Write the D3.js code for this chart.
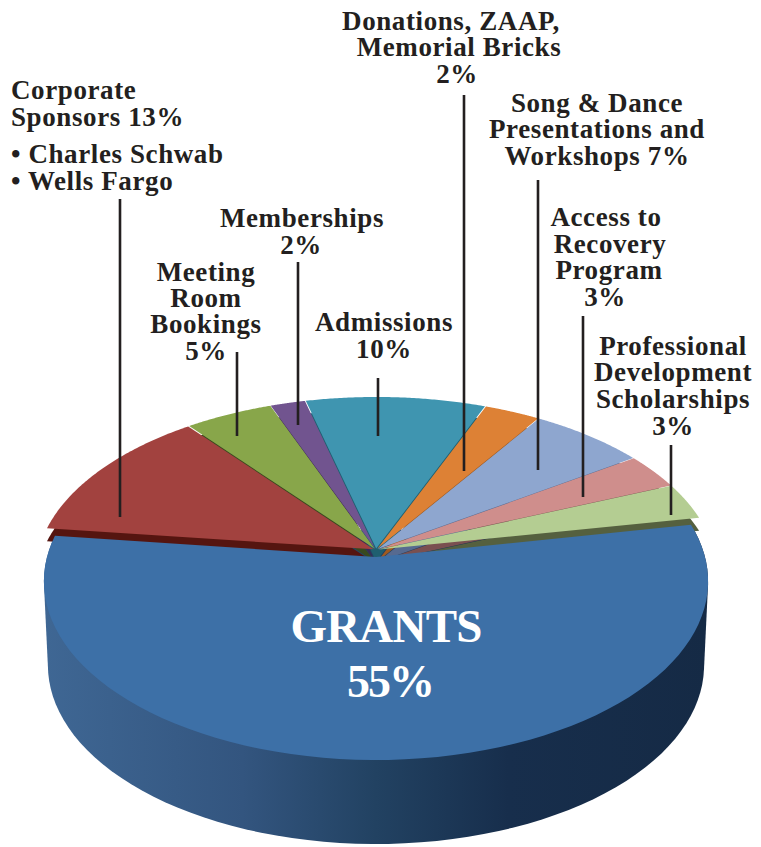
<!DOCTYPE html>
<html>
<head>
<meta charset="utf-8">
<script src="https://cdn.jsdelivr.net/npm/d3@7"></script>
<style>
  html, body { margin: 0; background: #fff; }
  svg { display: block; }
  text { font-family: "Liberation Serif", serif; font-weight: bold; fill: #231f20; }
</style>
</head>
<body>
<svg id="chart" width="761" height="847"></svg>
<script>
// slice sizes (the printed labels are rounded)
const categories = ["Grants", "Corporate Sponsors", "Meeting Room Bookings", "Memberships", "Admissions",
  "Donations, ZAAP, Memorial Bricks", "Song & Dance Presentations and Workshops", "Access to Recovery Program",
  "Professional Development Scholarships"];
const sliceValues = [55, 12.5, 4.8, 1.9, 9.8, 3.05, 6.35, 3.25, 3.35];
const topColors = ["#3d70a7", "#a2423f", "#88a64a", "#71548f", "#3f95b0", "#dd8135", "#8ea6cf", "#cf8e8c", "#b4cd92"];
const wallColors = ["#24456a", "#551510", "#38491f", "#3c2a55", "#1f5f70", "#a05a20", "#566a90", "#7a5050", "#55603f"];

// label blocks, one per slice: lines of [text, x, baseline y]
const labels = [
  [["Corporate", 11, 99], ["Sponsors 13%", 11, 126], ["• Charles Schwab", 11, 163], ["• Wells Fargo", 11, 190]],
  [["Meeting", 206, 281], ["Room", 206, 307], ["Bookings", 206, 333], ["5%", 206, 360]],
  [["Memberships", 302, 227], ["2%", 301, 254]],
  [["Admissions", 384, 331], ["10%", 384, 358]],
  [["Donations, ZAAP,", 451, 30], ["Memorial Bricks", 459, 56], ["2%", 457, 83]],
  [["Song & Dance", 597, 112], ["Presentations and", 597, 138], ["Workshops 7%", 597, 165]],
  [["Access to", 606, 226], ["Recovery", 610, 253], ["Program", 609, 279], ["3%", 605, 306]],
  [["Professional", 673, 355], ["Development", 673, 381], ["Scholarships", 673, 408], ["3%", 673, 435]]
];
// leader lines: [x, y top, y bottom]
const leaders = [[120, 199, 517], [237, 352, 436], [298, 262, 425], [378, 378, 436],
  [464, 95, 471], [538, 180, 470], [583, 316, 497], [671, 445, 515]];

const svg = d3.select("#chart");
const startAngle = 79.1 * Math.PI / 180;

const pie = d3.pie().sort(null).value(d => d)
  .startAngle(startAngle).endAngle(startAngle + 2 * Math.PI);
const arcs = pie(sliceValues);

// perspective of a unit disc lying flat; tilt makes the near side bigger
const tilt = 0.1365;
function projector(cx, cy, a, c) {
  return (u, v) => {
    const k = 1 - tilt * v;
    return [cx + a * u / k, cy + c * v / k];
  };
}
const line = d3.line();
const rim = (p, a0, a1, ox = 0, oy = 0) => d3.range(81).map(i => {
  const t = a0 + (a1 - a0) * i / 80;
  return p(ox + Math.sin(t), oy - Math.cos(t));
});

const backTop = projector(376, 550, 335, 172.7);
const grantsTop = projector(376, 557, 329, 175.3);
const grantsBase = projector(376, 641, 325, 175.3);

const defs = svg.append("defs");
const grad = defs.append("linearGradient").attr("id", "wall")
  .attr("gradientUnits", "userSpaceOnUse")
  .attr("x1", 43).attr("x2", 708).attr("y1", 0).attr("y2", 0);
[[0, "#3f6794"], [0.3, "#33557f"], [0.5, "#224262"], [0.7, "#172e4c"], [1, "#152a45"]]
  .forEach(s => grad.append("stop").attr("offset", s[0]).attr("stop-color", s[1]));

// grants wall goes in first: the hull is the outline swept from top rim to base rim
const grants = arcs[0];
const topRim = rim(grantsTop, grants.startAngle, grants.endAngle);
const baseRim = rim(grantsBase, grants.startAngle, grants.endAngle);
svg.append("path")
  .attr("d", line(d3.polygonHull([...topRim, ...baseRim])) + "Z")
  .attr("fill", "url(#wall)");

// back slices, each pushed out a little from the middle
const explode = 0.008;
const backSlices = arcs.slice(1).map(d => {
  const mid = (d.startAngle + d.endAngle) / 2;
  const ox = explode * Math.sin(mid), oy = -explode * Math.cos(mid);
  const pts = [backTop(ox, oy), ...rim(backTop, d.startAngle, d.endAngle, ox, oy)];
  return { i: d.index, pts, depth: -Math.cos(mid) };
});

// farthest walls first, tops over them so walls only show through the gaps
svg.append("g").selectAll("path")
  .data(backSlices.slice().sort((a, b) => d3.ascending(a.depth, b.depth))).join("path")
  .attr("d", d => line(d.pts.map(p => [p[0], p[1] + 13])) + "Z")
  .attr("fill", d => wallColors[d.i]);
svg.append("g").selectAll("path").data(backSlices).join("path")
  .attr("d", d => line(d.pts) + "Z")
  .attr("fill", d => topColors[d.i]);

svg.append("path")
  .attr("d", line([grantsTop(0, 0), ...topRim]) + "Z")
  .attr("fill", topColors[0]);

svg.append("g").selectAll("line").data(leaders).join("line")
  .attr("x1", d => d[0]).attr("x2", d => d[0])
  .attr("y1", d => d[1]).attr("y2", d => d[2])
  .attr("stroke", "#231f20").attr("stroke-width", 2.6);

// first block is the only left-aligned one
svg.append("g").selectAll("text").data(labels).join("text")
  .attr("text-anchor", (d, i) => i === 0 ? "start" : "middle")
  .attr("font-size", 27)
  .attr("letter-spacing", 0.6)
  .selectAll("tspan").data(d => d).join("tspan")
  .attr("x", d => d[1]).attr("y", d => d[2])
  .text(d => d[0]);

svg.append("text").attr("x", 386).attr("y", 642).attr("text-anchor", "middle")
  .attr("font-size", 47).attr("letter-spacing", -0.8).style("fill", "#fff").text("GRANTS");
svg.append("text").attr("x", 390).attr("y", 697).attr("text-anchor", "middle")
  .attr("font-size", 46).attr("letter-spacing", -2).style("fill", "#fff").text("55%");
</script>
</body>
</html>
